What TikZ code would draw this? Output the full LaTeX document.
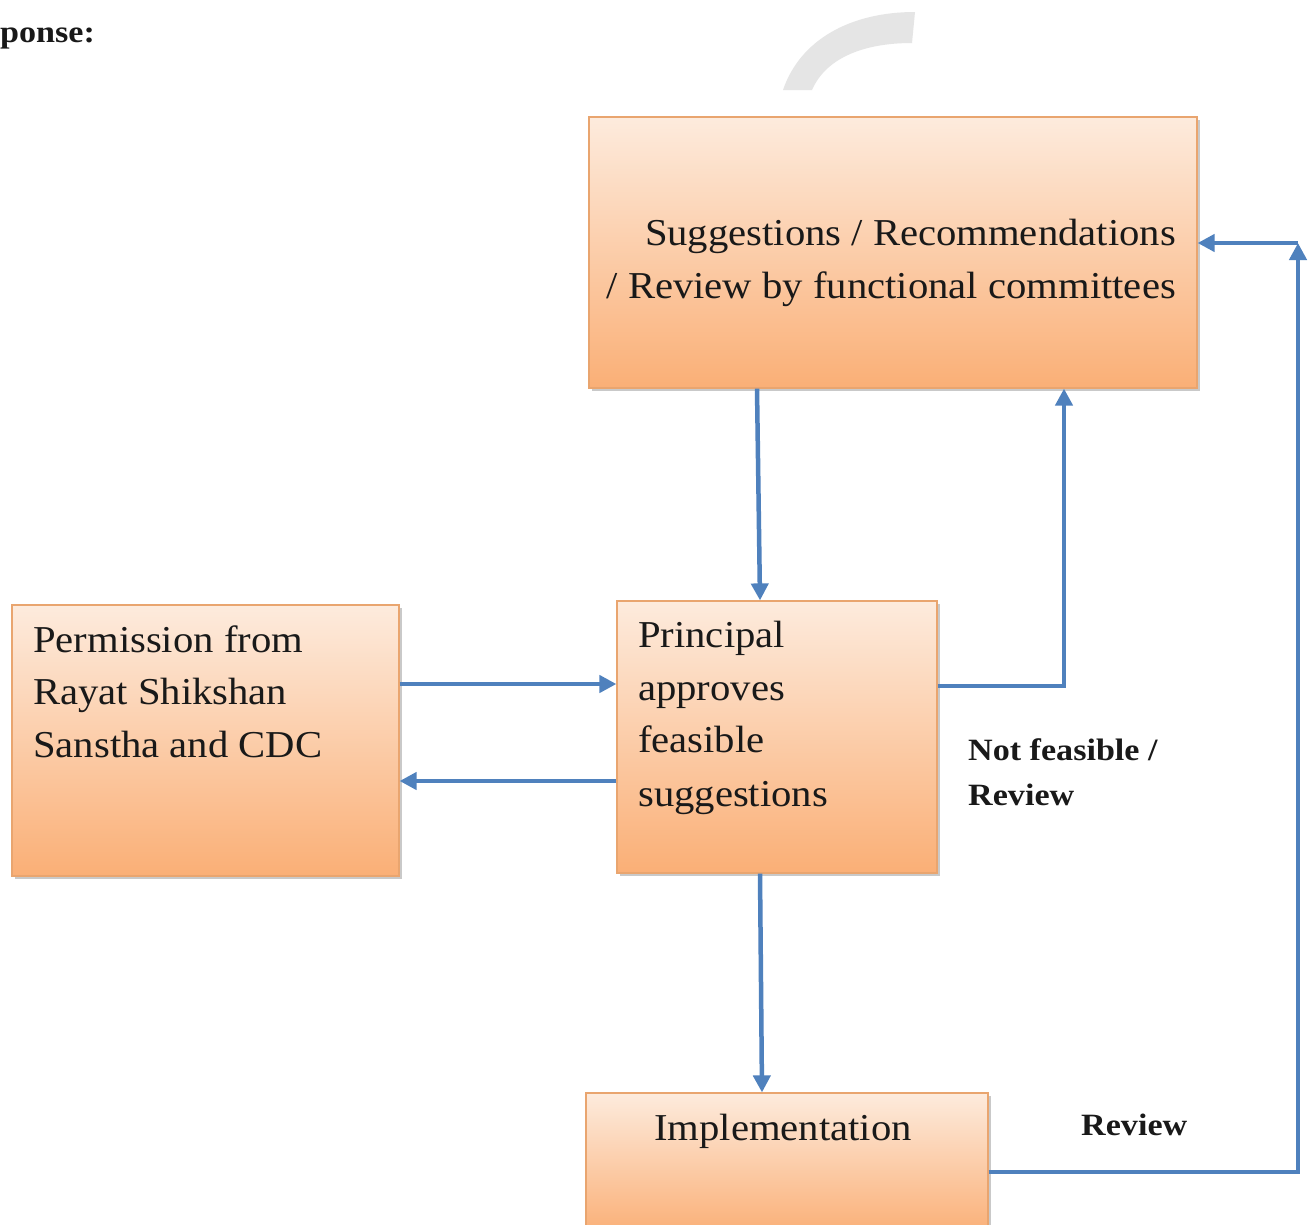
\documentclass[tikz,border=0pt]{standalone}
\usepackage{fontspec}
\setmainfont{Liberation Serif}
\newfontfamily\boxfont[FakeStretch=1.07]{Liberation Serif}
\newfontfamily\lblfont[FakeStretch=1.1]{Liberation Serif}
\usetikzlibrary{arrows.meta,shadows}
\definecolor{boxtop}{HTML}{FDEBDD}
\definecolor{boxbot}{HTML}{FAAF76}
\definecolor{boxline}{HTML}{E9A56F}
\definecolor{arrblue}{HTML}{4F81BD}
\tikzset{
  box/.style={draw=boxline, line width=1.2pt, top color=boxtop, bottom color=boxbot,
    inner sep=0pt, drop shadow={shadow xshift=2.5pt, shadow yshift=-2.5pt, opacity=0.35, fill=black!60}},
  boxtxt/.style={inner sep=0pt, font=\boxfont\fontsize{38}{53}\selectfont, text=black!90},
  lbl/.style={inner sep=0pt, font=\lblfont\fontsize{31}{45}\selectfont\bfseries, text=black!90},
  arr/.style={draw=arrblue, line width=4.5pt, -{Triangle[length=17pt,width=17pt]}},
}
\begin{document}
\begin{tikzpicture}[x=1pt,y=1pt]
\useasboundingbox (0,0) rectangle (1311,-1224);
\clip (0,0) rectangle (1311,-1224);
\fill[white] (0,0) rectangle (1311,-1224);
% faint watermark fragment
\fill[black!10] (783,-90) .. controls (800,-40) and (850,-12) .. (915,-12) -- (912,-43) .. controls (860,-43) and (825,-60) .. (812,-90) -- cycle;
\node[lbl, anchor=base west] (resp) at (0,-42) {ponse:};
% boxes
\node[box, minimum width=608pt, minimum height=271pt] (top) at (893,-252.5) {};
\node[box, minimum width=387pt, minimum height=271pt] (left) at (205.5,-740.5) {};
\node[box, minimum width=320pt, minimum height=272pt] (mid) at (777,-737) {};
\node[box, minimum width=402pt, minimum height=142pt] (impl) at (787,-1164) {};
% texts
\node[boxtxt, anchor=base east] (t1) at (1176,-245) {Suggestions / Recommendations};
\node[boxtxt, anchor=base east] (t2) at (1176,-298) {/ Review by functional committees};
\node[boxtxt, anchor=base west] (l1) at (33,-652) {Permission from};
\node[boxtxt, anchor=base west] (l2) at (33,-704) {Rayat Shikshan};
\node[boxtxt, anchor=base west] (l3) at (33,-757) {Sanstha and CDC};
\node[boxtxt, anchor=base west] (m1) at (638,-647) {Principal};
\node[boxtxt, anchor=base west] (m2) at (638,-700) {approves};
\node[boxtxt, anchor=base west] (m3) at (638,-752) {feasible};
\node[boxtxt, anchor=base west] (m4) at (638,-806) {suggestions};
\node[boxtxt, anchor=base] (i1) at (783,-1140) {Implementation};
\node[lbl, anchor=base west] (nf1) at (968,-760) {Not feasible /};
\node[lbl, anchor=base west] (nf2) at (968,-805) {Review};
\node[lbl, anchor=base west] (rv) at (1081,-1135) {Review};
% connectors
\coordinate (corner) at (1298,-243);
\draw[arr] ([xshift=-136pt]top.south) -- ([xshift=-17pt]mid.north);
\draw[arr] ([yshift=56.5pt]left.east) -- ([yshift=53pt]mid.west);
\draw[arr] ([yshift=-44pt]mid.west) -- ([yshift=-40.5pt]left.east);
\draw[arr] ([yshift=51pt]mid.east) -| ([xshift=171pt]top.south);
\draw[arr] ([xshift=-17pt]mid.south) -- ([xshift=-25pt]impl.north);
\draw[arr] ([yshift=-8pt]impl.east) -| (corner);
\draw[arr] (corner) -- ([yshift=9.5pt]top.east);
\end{tikzpicture}
\end{document}
